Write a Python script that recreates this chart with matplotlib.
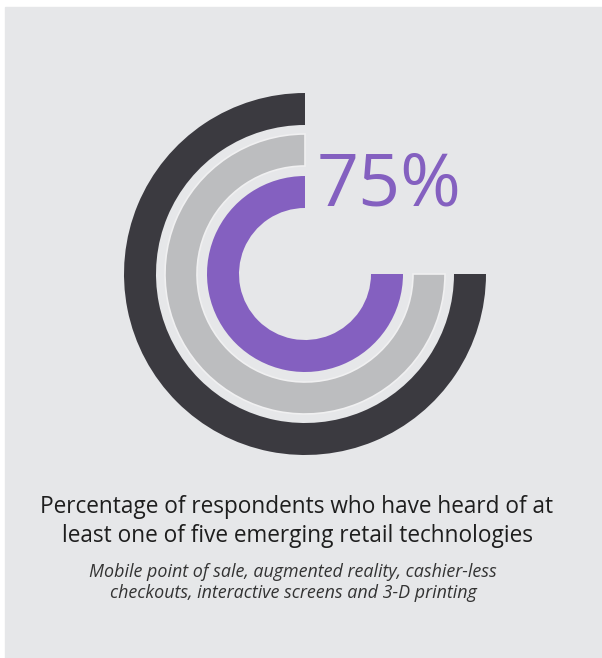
import matplotlib.pyplot as plt
from matplotlib.patches import Rectangle

# share of respondents, one ring per band (all rings show the same figure)
ring_values = [75, 75, 75]
ring_colors = ["#3b3a40", "#bcbdbf", "#8460c0"]
ring_outer = [181, 140, 98]
ring_width = 32
headline = "75%"
title_lines = ["Percentage of respondents who have heard of at",
               "least one of five emerging retail technologies"]
subtitle_lines = ["Mobile point of sale, augmented reality, cashier-less",
                  "checkouts, interactive screens and 3-D printing"]

W, H = 602, 658
bg = "#e6e7e9"

fig = plt.figure(figsize=(W / 100, H / 100), dpi=100, facecolor="white")
ax = fig.add_axes([0, 0, 1, 1])

center = (305, H - 274)
for val, col, r in zip(ring_values, ring_colors, ring_outer):
    wedges, _ = ax.pie([val, 100 - val], radius=r, center=center, startangle=90,
                       counterclock=True, colors=[col, "none"],
                       wedgeprops=dict(width=ring_width, linewidth=0))
    if col == "#bcbdbf":
        # light rim around the middle ring
        wedges[0].set_edgecolor("#f0f0f1")
        wedges[0].set_linewidth(1.2)

ax.add_patch(Rectangle((5, 0), W - 5, H - 7, color=bg, zorder=-5))
ax.set_xlim(0, W)
ax.set_ylim(0, H)
ax.set_aspect("auto")
ax.axis("off")

ax.text(317, H - 205, headline, fontsize=53, color="#8460c0",
        family="Open Sans", ha="left", va="baseline")

for i, line in enumerate(title_lines):
    ax.text(297, H - 512.7 - i * 29, line, fontsize=16.3, color="#1e1e1e",
            family="Open Sans", ha="center", va="baseline")

for i, line in enumerate(subtitle_lines):
    ax.text(293, H - 576.7 - i * 21.6, line, fontsize=12.9, color="#333333",
            family="Open Sans", style="italic", ha="center", va="baseline")

fig.savefig("out.png", dpi=100, facecolor="white")
